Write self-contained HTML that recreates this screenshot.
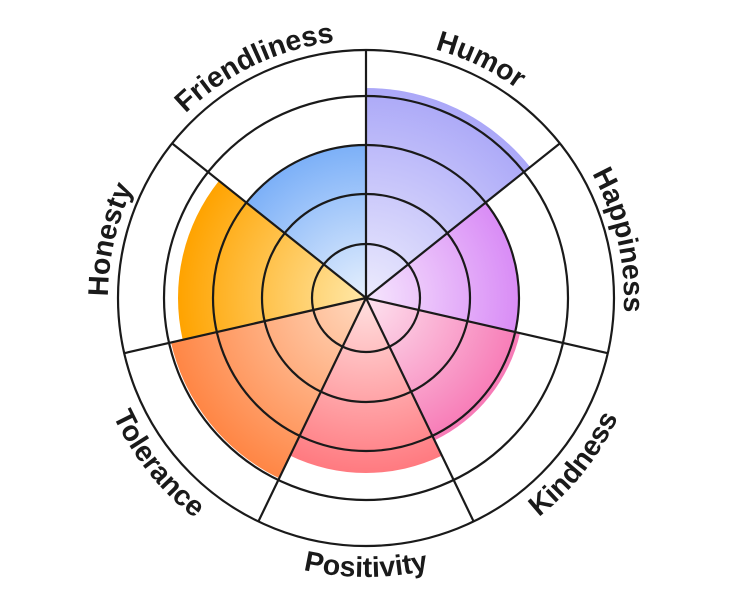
<!DOCTYPE html>
<html><head><meta charset="utf-8"><style>
html,body{margin:0;padding:0;background:#fff;width:732px;height:600px;overflow:hidden}
svg text{font-family:"Liberation Sans",sans-serif;font-weight:bold;font-size:28.5px;fill:#1a1a1a}
</style></head><body>
<svg id="s" width="732" height="600" viewBox="0 0 732 600" xmlns="http://www.w3.org/2000/svg">
<defs id="d">
<path id="cw" d="M366,40 A258,258 0 1 1 366,556 A258,258 0 1 1 366,40"/>
<path id="ccw" d="M366,19 A279,279 0 1 0 366,577 A279,279 0 1 0 366,19"/>
</defs>
<g id="sec"></g>
<g id="grid" fill="none" stroke="#1a1a1a" stroke-width="2.2"></g>
<text><textPath href="#cw" startOffset="7.14%" text-anchor="middle">Humor</textPath></text>
<text><textPath href="#cw" startOffset="21.43%" text-anchor="middle">Happiness</textPath></text>
<text><textPath href="#cw" startOffset="78.57%" text-anchor="middle">Honesty</textPath></text>
<text><textPath href="#cw" startOffset="92.86%" text-anchor="middle">Friendliness</textPath></text>
<text><textPath href="#ccw" startOffset="64.29%" text-anchor="middle">Kindness</textPath></text>
<text><textPath href="#ccw" startOffset="50%" text-anchor="middle">Positivity</textPath></text>
<text><textPath href="#ccw" startOffset="35.71%" text-anchor="middle">Tolerance</textPath></text>
</svg>
<script>
var cx=366,cy=298,NS="http://www.w3.org/2000/svg";
var d=document.getElementById("d"),sec=document.getElementById("sec"),grid=document.getElementById("grid");
function pt(a,r){var t=a*Math.PI/180;return [cx+r*Math.sin(t),cy-r*Math.cos(t)];}
var data=[[210,"#aba8f8","#ecebfd"],[153,"#d98cf6","#f6e6fd"],[158,"#f77ab6","#fde3ef"],[175,"#ff7a80","#ffe0e0"],[200,"#ff8645","#ffd9bf"],[188,"#ffa300","#ffe8a8"],[153,"#7cb0f8","#e6f0fd"]];
var w=360/7;
data.forEach(function(s,i){
 var g=document.createElementNS(NS,"radialGradient");
 g.setAttribute("id","g"+i);g.setAttribute("gradientUnits","userSpaceOnUse");
 g.setAttribute("cx",cx);g.setAttribute("cy",cy);g.setAttribute("r",s[0]);
 g.innerHTML='<stop offset="0" stop-color="'+s[2]+'"/><stop offset="1" stop-color="'+s[1]+'"/>';
 d.appendChild(g);
 var a=pt(i*w,s[0]),b=pt((i+1)*w,s[0]);
 var p=document.createElementNS(NS,"path");
 p.setAttribute("d","M"+cx+","+cy+" L"+a[0]+","+a[1]+" A"+s[0]+","+s[0]+" 0 0 1 "+b[0]+","+b[1]+" Z");
 p.setAttribute("fill","url(#g"+i+")");sec.appendChild(p);
});
[54,104,153,202,248].forEach(function(r){var c=document.createElementNS(NS,"circle");c.setAttribute("cx",cx);c.setAttribute("cy",cy);c.setAttribute("r",r);grid.appendChild(c);});
for(var i=0;i<7;i++){var p=pt(i*w,248);var l=document.createElementNS(NS,"line");l.setAttribute("x1",cx);l.setAttribute("y1",cy);l.setAttribute("x2",p[0]);l.setAttribute("y2",p[1]);grid.appendChild(l);}
</script>
</body></html>
